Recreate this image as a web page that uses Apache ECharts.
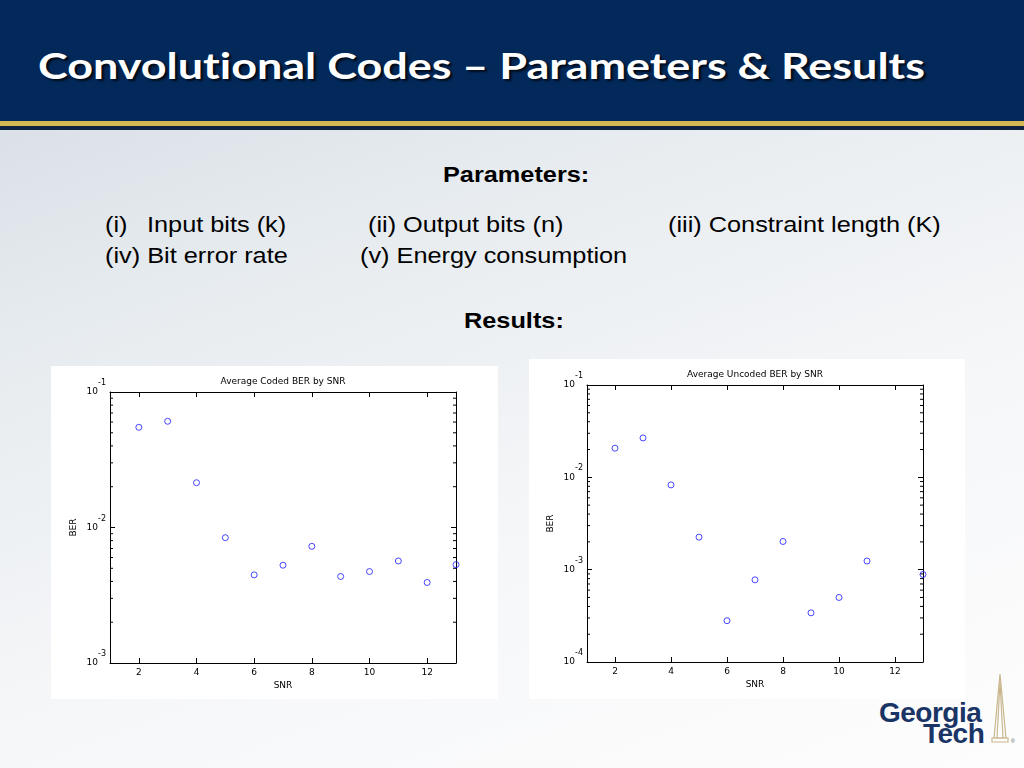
<!DOCTYPE html>
<html>
<head>
<meta charset="utf-8">
<script src="https://cdn.jsdelivr.net/npm/echarts@6/dist/echarts.min.js"></script>
<style>
  html, body { margin:0; padding:0; width:1024px; height:768px; overflow:hidden; }
  body { position:relative; background: linear-gradient(160deg, #d3dae2 0%, #e6ebef 30%, #f6f7f9 65%, #fdfdfd 100%); font-family: "Liberation Sans", Arial, sans-serif; }
  #hdr { position:absolute; left:0; top:0; width:1024px; height:121px; background:#03295a; }
  #gold { position:absolute; left:0; top:121px; width:1024px; height:5px; background:#d3b853; }
  #dark { position:absolute; left:0; top:126px; width:1024px; height:4px; background:#0d2440; }
  #title { position:absolute; left:38px; top:40px; color:#fff; font-family:"Lato", "Open Sans", sans-serif; font-weight:700; font-size:37px; line-height:50px; white-space:pre; font-variant-ligatures:none; text-shadow:2px 2px 2px rgba(0,0,0,0.75); transform-origin:left center; display:inline-block; }
  .t { position:absolute; white-space:pre; font-size:22px; line-height:30px; color:#000; transform-origin:left center; transform:scaleX(1.15); }
  .b { font-weight:700; }
  .panel { position:absolute; background:#fff; }
  #chart { position:absolute; left:0; top:0; width:1024px; height:768px; }
  .logo { position:absolute; font-family:"Liberation Sans", Arial, sans-serif; font-weight:700; font-size:28px; line-height:28px; color:#1a3466; letter-spacing:-0.5px; white-space:pre; }
</style>
</head>
<body>
<div id="hdr"></div>
<div id="gold"></div>
<div id="dark"></div>
<div id="title">Convolutional Codes – Parameters &amp; Results</div>

<div class="t b" style="left:443px; top:160px;">Parameters:</div>
<div class="t" style="left:105px; top:210px;">(i)</div>
<div class="t" style="left:147px; top:210px;">Input bits (k)</div>
<div class="t" style="left:368px; top:210px;">(ii) Output bits (n)</div>
<div class="t" style="left:668px; top:210px;">(iii) Constraint length (K)</div>
<div class="t" style="left:105px; top:241px;">(iv) Bit error rate</div>
<div class="t" style="left:360px; top:241px;">(v) Energy consumption</div>
<div class="t b" style="left:464px; top:306px;">Results:</div>

<div class="panel" style="left:51px; top:366px; width:447px; height:333px;"></div>
<div class="panel" style="left:529px; top:359px; width:436px; height:340px;"></div>

<div class="logo" style="left:879px; top:699px;">Georgia</div>
<div class="logo" style="left:923px; top:720px;">Tech</div>
<svg style="position:absolute; left:990px; top:672px;" width="34" height="80">
  <g fill="none" stroke="#c9b78f" stroke-width="1.2">
    <path d="M10 2 L4 66 L16 66 Z"/>
    <path d="M10 10 L7 66 M10 10 L13 66"/>
    <path d="M2 66 L18 66 L18 70 L2 70 Z"/>
  </g>
  <text x="21" y="71" font-size="5" fill="#555" font-family="Liberation Sans">®</text>
</svg>

<div id="chart"></div>

<script>
// ---- data ----
const snrCoded = [2, 3, 4, 5, 6, 7, 8, 9, 10, 11, 12, 13];
const berCoded = [0.0549, 0.0608, 0.0214, 0.00841, 0.00447, 0.00527, 0.00726, 0.00435, 0.00473, 0.00566, 0.00393, 0.00532];
const snrUncoded = [2, 3, 4, 5, 6, 7, 8, 9, 10, 11, 13];
const berUncoded = [0.0207, 0.0267, 0.00828, 0.00225, 0.000280, 0.000776, 0.00202, 0.000341, 0.000500, 0.00124, 0.000887];
const xTicks = [2, 4, 6, 8, 10, 12];
const minorMultipliers = [2, 3, 4, 5, 6, 7, 8, 9];
const chartTitles = ['Average Coded BER by SNR', 'Average Uncoded BER by SNR'];
const xName = 'SNR';
const yName = 'BER';

// fit header title width
(function(){
  const el = document.getElementById('title');
  const w = el.getBoundingClientRect().width;
  el.style.transform = 'scaleX(' + (887 / w) + ')';
})();

const FONT = '"DejaVu Sans", sans-serif';
const grids = [
  { left: 110, top: 392, width: 346, height: 271, yMin: 1e-3, yMax: 1e-1, expMin: -3, expMax: -1, titleY: 382 },
  { left: 587, top: 385, width: 336, height: 277, yMin: 1e-4, yMax: 1e-1, expMin: -4, expMax: -1, titleY: 375 }
];
const datasets = [
  snrCoded.map((x, i) => [x, berCoded[i]]),
  snrUncoded.map((x, i) => [x, berUncoded[i]])
];

const lineStyle = { color: '#000', width: 1 };
const option = {
  animation: false,
  backgroundColor: 'transparent',
  grid: [], xAxis: [], yAxis: [], series: [], graphic: []
};

grids.forEach((g, i) => {
  option.grid.push({ left: g.left, top: g.top, width: g.width, height: g.height, show: false });
  const xBase = {
    gridIndex: i, type: 'value', min: 1, max: 13,
    axisLine: { show: true, onZero: false, lineStyle },
    axisTick: { show: true, inside: true, length: 5, customValues: xTicks, lineStyle },
    splitLine: { show: false }
  };
  option.xAxis.push(Object.assign({}, xBase, {
    position: 'bottom', name: xName, nameLocation: 'middle', nameGap: 18,
    nameTextStyle: { fontFamily: FONT, fontSize: 9, color: '#000' },
    axisLabel: { show: true, customValues: xTicks, margin: 5, fontFamily: FONT, fontSize: 9, color: '#000' }
  }));
  option.xAxis.push(Object.assign({}, xBase, { position: 'top', axisLabel: { show: false } }));
  const yBase = {
    gridIndex: i, type: 'log', logBase: 10, min: g.yMin, max: g.yMax,
    axisLine: { show: true, onZero: false, lineStyle },
    axisTick: { show: true, inside: true, length: 5, lineStyle },
    splitLine: { show: false }
  };
  option.yAxis.push(Object.assign({}, yBase, {
    position: 'left', name: yName, nameLocation: 'middle', nameGap: 32, nameRotate: 90,
    nameTextStyle: { fontFamily: FONT, fontSize: 9, color: '#000' },
    axisLabel: {
      show: true, margin: 4, color: '#000',
      formatter: v => '{b|10}{s|' + Math.round(Math.log10(v)) + '}',
      rich: {
        b: { fontFamily: FONT, fontSize: 9, color: '#000', lineHeight: 10, verticalAlign: 'middle' },
        s: { fontFamily: FONT, fontSize: 8, color: '#000', lineHeight: 8, padding: [0, 0, 18, 0], verticalAlign: 'middle' }
      }
    }
  }));
  option.yAxis.push(Object.assign({}, yBase, { position: 'right', axisLabel: { show: false } }));

  // minor log ticks (left and right edges)
  const minorData = [];
  for (let e = g.expMin; e < g.expMax; e++) {
    minorMultipliers.forEach(m => minorData.push([1, m * Math.pow(10, e)]));
  }
  option.series.push({
    type: 'custom', xAxisIndex: 2 * i, yAxisIndex: 2 * i, silent: true, clip: false,
    data: minorData,
    renderItem: (params, api) => {
      const y = api.value(1);
      const p1 = api.coord([1, y]);
      const p2 = api.coord([13, y]);
      return { type: 'group', children: [
        { type: 'line', shape: { x1: p1[0], y1: p1[1], x2: p1[0] + 3, y2: p1[1] }, style: { stroke: '#000', lineWidth: 1 } },
        { type: 'line', shape: { x1: p2[0] - 3, y1: p2[1], x2: p2[0], y2: p2[1] }, style: { stroke: '#000', lineWidth: 1 } }
      ] };
    }
  });

  option.series.push({
    type: 'scatter', xAxisIndex: 2 * i, yAxisIndex: 2 * i, clip: false,
    data: datasets[i], symbol: 'circle', symbolSize: 6,
    itemStyle: { color: 'rgba(255,255,255,0)', borderColor: '#1a1aff', borderWidth: 1 },
    emphasis: { disabled: true }
  });

  option.graphic.push({
    type: 'text', x: g.left + g.width / 2, y: g.titleY,
    style: { text: chartTitles[i], fontFamily: FONT, fontSize: 9, fill: '#000', textAlign: 'center', textVerticalAlign: 'middle' }
  });
});

const chart = echarts.init(document.getElementById('chart'), null, { renderer: 'canvas' });
chart.setOption(option);
</script>
</body>
</html>
